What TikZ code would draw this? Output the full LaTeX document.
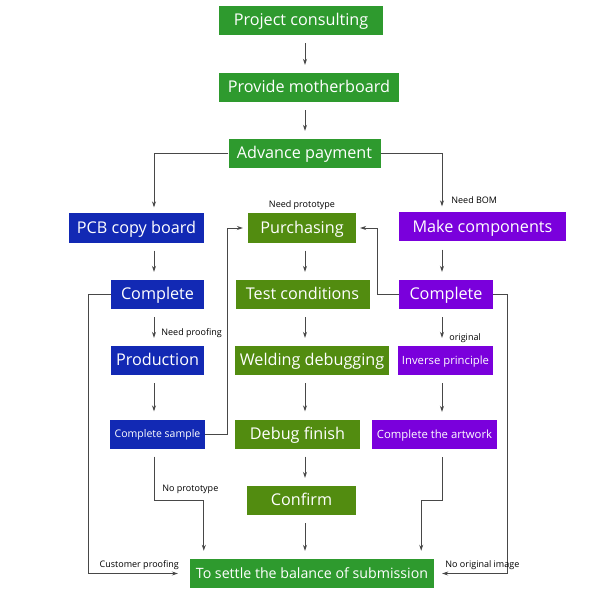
\documentclass[tikz,border=0pt]{standalone}
\usepackage{fontspec}
\setmainfont{Open Sans}
\usetikzlibrary{arrows.meta,positioning,calc}
\definecolor{Leaf}{HTML}{2E9A2E}
\definecolor{Olive}{HTML}{528C10}
\definecolor{Royal}{HTML}{1229B4}
\definecolor{Violet}{HTML}{7A00DC}
\definecolor{Wire}{HTML}{484848}
\tikzset{
  stepbox/.style={fill=#1, text=white, inner sep=0pt, minimum height=29pt,
    text height=12.6pt, text depth=2pt,
    font=\fontsize{16.2}{19}\selectfont},
  stepbox/.default={Leaf},
  smallbox/.style={stepbox=#1, text height=8.8pt, text depth=1.4pt,
    font=\fontsize{11.3}{13}\selectfont},
  link/.style={-{Stealth[length=6pt,width=4pt]}, draw=Wire, line width=0.8pt},
  gap/.style={shorten <=#1, shorten >=#1},
  tag/.style={font=\fontsize{9}{11}\selectfont, text=black, inner sep=1pt},
}

\begin{document}
\begin{tikzpicture}[x=1pt, y=-1pt]
  \useasboundingbox (0,0) rectangle (589,601);
  % columns of the vertical arrows
  \coordinate (colL) at (154,0);
  \coordinate (colM) at (305,0);
  \coordinate (colR) at (442,0);

  % main line
  \node[stepbox, minimum width=164pt] (consult) at (301,20.5) {Project consulting};
  \node[stepbox, minimum width=180pt] (mboard) at (309,87.5) {Provide motherboard};
  \node[stepbox, minimum width=152pt] (advance) at (304.5,153.5) {Advance payment};

  % three branches
  \node[stepbox=Royal, minimum width=135pt] (pcb) at (136.5,228) {PCB copy board};
  \node[stepbox=Olive, minimum width=108pt,
    label={[tag, yshift=2pt]above:Need prototype}] (purch) at (302,228) {Purchasing};
  \node[stepbox=Violet, minimum width=167pt] (makecomp) at (482.5,227) {Make components};

  \node[stepbox=Royal, minimum width=93pt] (bcomplete) at (157.5,294.5) {Complete};
  \node[stepbox=Olive, minimum width=134pt] (testc) at (302.5,294.5) {Test conditions};
  \node[stepbox=Violet, minimum width=94pt] (pcomplete) at (446,294.5) {Complete};

  \node[stepbox=Royal, minimum width=93pt] (production) at (157.5,360.5) {Production};
  \node[stepbox=Olive, minimum width=154pt] (welding) at (312,360.5) {Welding debugging};
  \node[smallbox=Violet, minimum width=95pt] (inverse) at (445.5,360.5) {Inverse principle};

  \node[smallbox=Royal, minimum width=95pt, font=\fontsize{10.5}{13}\selectfont] (csample) at (157.5,434) {Complete sample};
  \node[stepbox=Olive, minimum width=125pt] (dfinish) at (297.5,434) {Debug finish};
  \node[smallbox=Violet, minimum width=125pt] (artwork) at (434.5,434.5) {Complete the artwork};

  \node[stepbox=Olive, minimum width=109pt] (confirm) at (301.5,500.5) {Confirm};
  \node[stepbox, minimum width=244pt, text height=11pt, text depth=1.7pt,
    font=\fontsize{14.2}{17}\selectfont] (settle) at (312,573.5) {To settle the balance of submission};

  % straight arrows
  \draw[link, gap=8pt] (consult.south -| colM) -- (mboard.north -| colM);
  \draw[link, gap=8pt] (mboard.south -| colM) -- (advance.north -| colM);
  \draw[link, gap=8pt] (pcb.south -| colL) -- (bcomplete.north -| colL);
  \draw[link, gap=8pt] (purch.south -| colM) -- (testc.north -| colM);
  \draw[link, gap=8pt] (makecomp.south -| colR) -- (pcomplete.north -| colR);
  \draw[link, gap=8pt] (bcomplete.south -| colL) -- node[tag, right=6pt, pos=0.65] {Need proofing} (production.north -| colL);
  \draw[link, gap=8pt] (testc.south -| colM) -- (welding.north -| colM);
  \draw[link, gap=8pt] (pcomplete.south -| colR) -- node[tag, right=6pt, pos=0.8] {original} (inverse.north -| colR);
  \draw[link, gap=8pt] (production.south -| colL) -- (csample.north -| colL);
  \draw[link, gap=8pt] (welding.south -| colM) -- (dfinish.north -| colM);
  \draw[link, gap=8pt] (inverse.south -| colR) -- (artwork.north -| colR);
  \draw[link, gap=8pt] (dfinish.south -| colM) -- (confirm.north -| colM);
  \draw[link, gap=8pt] (confirm.south -| colM) -- (settle.north -| colM);

  % elbows
  \draw[link, shorten >=6pt] (advance.west) -| (pcb.north -| colL);
  \draw[link, shorten >=6pt] (advance.east) -| node[tag, right=8pt, pos=0.9] {Need BOM} (makecomp.north -| colR);
  \draw[link, shorten >=4pt] (pcomplete.west) -- ++(-21,0) |- (purch.east);
  \draw[link, shorten >=5pt] (csample.east) -- ++(22,0) |- (purch.west);
  \draw[link, shorten >=12pt] (bcomplete.west) -- ++(-22,0) |- node[tag, above=2pt, pos=0.75] {Customer proofing} (settle.west);
  \draw[link, shorten >=8pt] (pcomplete.east) -- ++(14,0) |- node[tag, above=2pt, pos=0.67] {No original image} (settle.east);
  \draw[link, gap=8pt] (csample.south -| colL) -- ++(0,52)
    node[tag, anchor=south west, xshift=7pt, yshift=6pt] {No prototype}
    -| ($(settle.north west)+(14,0)$);
  \draw[link, gap=8pt] (artwork.south -| colR) -- ++(0,51) -| ($(settle.north east)+(-13,0)$);
\end{tikzpicture}
\end{document}
